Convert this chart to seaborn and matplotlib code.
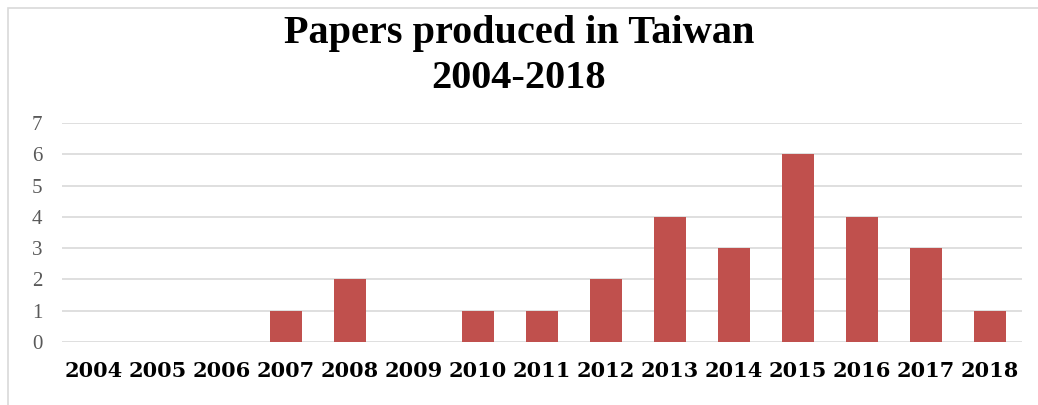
import matplotlib
matplotlib.use("Agg")
import matplotlib.pyplot as plt
import seaborn as sns
import pandas as pd
from matplotlib.patches import Rectangle

years = ["2004", "2005", "2006", "2007", "2008", "2009", "2010", "2011",
         "2012", "2013", "2014", "2015", "2016", "2017", "2018"]
papers = [0, 0, 0, 1, 2, 0, 1, 1, 2, 4, 3, 6, 4, 3, 1]
yticks = [0, 1, 2, 3, 4, 5, 6, 7]

df = pd.DataFrame({"year": years, "papers": papers})

sns.set_theme(style="white")
plt.rcParams['font.family'] = ['Liberation Serif', 'DejaVu Serif']

fig = plt.figure(figsize=(10.38, 4.05), dpi=100)
ax = fig.add_axes([62/1038, 1-342/405, 960/1038, 219/405])

sns.barplot(data=df, x="year", y="papers", color="#C0504D", width=0.5,
            saturation=1, ax=ax, zorder=3, linewidth=0, edgecolor="none")

ax.set_ylim(0, 7)
ax.set_xlim(-0.5, len(years)-0.5)
ax.set_yticks(yticks)
ax.set_yticklabels([str(t) for t in yticks], color="#595959", fontsize=15)
ax.tick_params(axis="y", length=0, pad=14)
ax.tick_params(axis="x", length=0, pad=14)
for lbl in ax.get_xticklabels():
    lbl.set_fontweight("bold")
    lbl.set_fontsize(15)
    lbl.set_family(["DejaVu Serif"])
    lbl.set_color("black")
ax.set_xlabel("")
ax.set_ylabel("")
ax.yaxis.grid(True, color="#D9D9D9", linewidth=1.2, zorder=0)
ax.xaxis.grid(False)
for s in ax.spines.values():
    s.set_visible(False)

fig.text(0.5, 1-43/405, "Papers produced in Taiwan", ha="center", va="baseline",
         fontsize=29, fontweight="bold", color="black")
fig.text(0.5, 1-88/405, "2004-2018", ha="center", va="baseline",
         fontsize=29, fontweight="bold", color="black")

fig.patches.append(Rectangle((8/1038, -0.05), 1.2, 1-8/405+0.05,
                             transform=fig.transFigure, fill=False,
                             edgecolor="#D9D9D9", linewidth=1.2))

fig.savefig("out.png", dpi=100)
